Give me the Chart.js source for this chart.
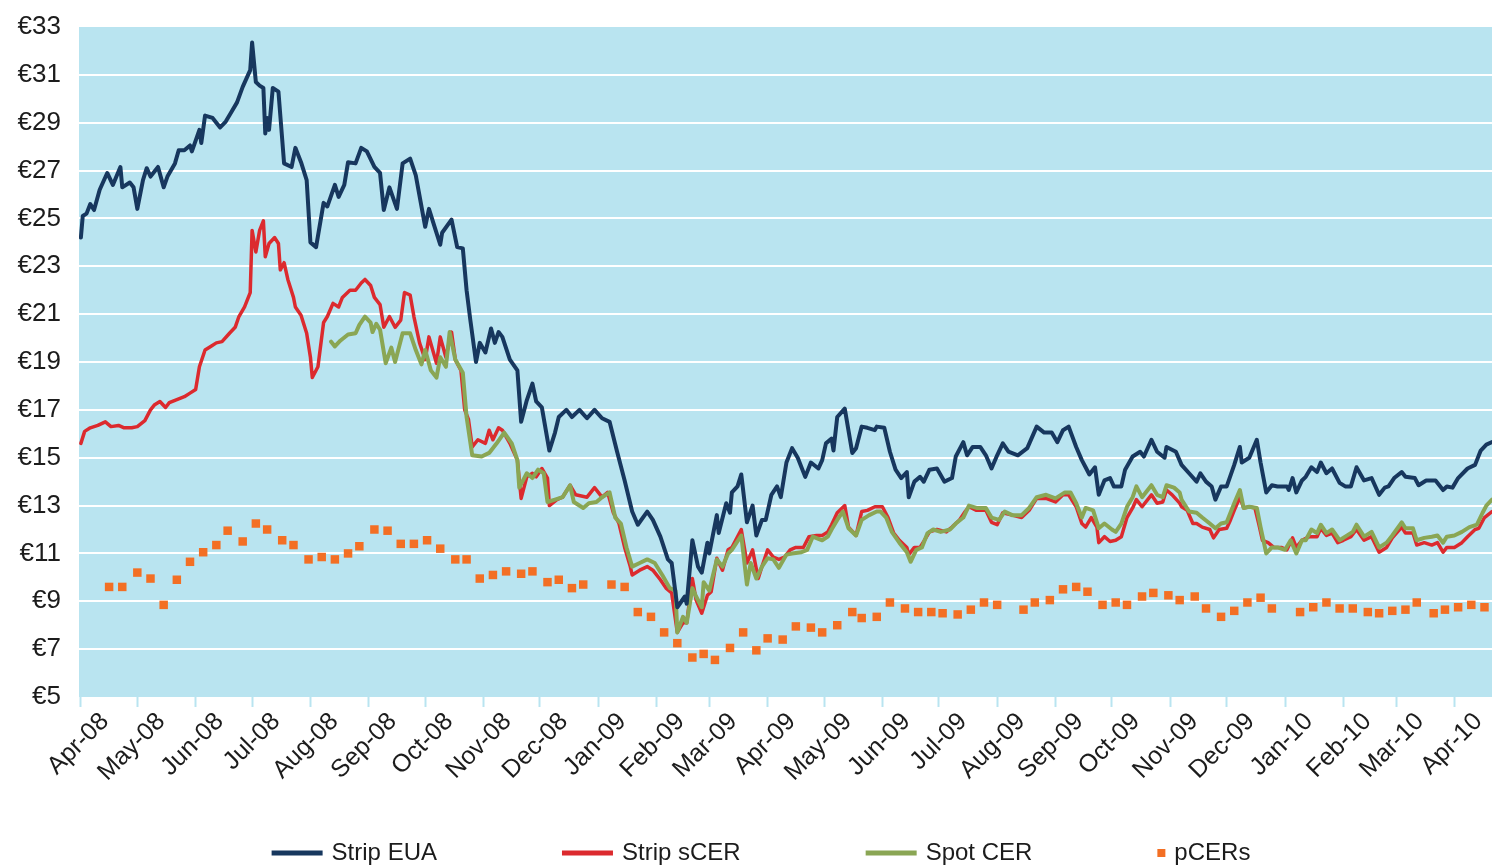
<!DOCTYPE html>
<html>
<head>
<meta charset="utf-8">
<title>EUA and CER prices</title>
<script src="https://cdn.jsdelivr.net/npm/chart.js@4.4.1/dist/chart.umd.min.js"></script>
<style>
  html, body { margin: 0; padding: 0; background: #ffffff; }
  #wrap { width: 1492px; height: 868px; }
</style>
</head>
<body>
<div id="wrap"><canvas id="prices"></canvas></div>
<script>
// x values are days counted from 1 April 2008
const monthLabels = [
  "Apr-08", "May-08", "Jun-08", "Jul-08", "Aug-08", "Sep-08", "Oct-08", "Nov-08", "Dec-08",
  "Jan-09", "Feb-09", "Mar-09", "Apr-09", "May-09", "Jun-09", "Jul-09", "Aug-09", "Sep-09",
  "Oct-09", "Nov-09", "Dec-09", "Jan-10", "Feb-10", "Mar-10", "Apr-10"
];
const monthStartDays = [
  0, 30, 61, 91, 122, 153, 183, 214, 244, 275, 306, 334, 365,
  395, 426, 456, 487, 518, 548, 579, 609, 640, 671, 699, 730
];

const euaDays = [
  0, 1, 3, 5, 7, 10, 14, 17, 21, 22,
  26, 28, 30, 33, 35, 37, 41, 44, 46, 50,
  52, 55, 58, 59, 63, 64, 66, 70, 74, 77,
  80, 83, 86, 90, 91, 93, 95, 97, 98, 99,
  100, 102, 105, 107, 108, 112, 114, 117, 120, 122,
  125, 129, 131, 135, 137, 140, 142, 146, 149, 152,
  156, 159, 161, 164, 168, 171, 175, 178, 183, 185,
  188, 191, 192, 197, 200, 203, 205, 207, 210, 212,
  215, 218, 220, 222, 224, 228, 232, 234, 237, 240,
  242, 245, 249, 252, 254, 258, 261, 265, 269, 273,
  277, 281, 285, 289, 293, 296, 301, 304, 308, 312,
  314, 317, 321, 322, 325, 328, 330, 333, 334, 338,
  339, 343, 345, 346, 349, 351, 354, 357, 359, 362,
  364, 367, 370, 372, 375, 378, 381, 385, 388, 392,
  394, 396, 399, 400, 402, 406, 410, 412, 415, 418,
  422, 423, 427, 430, 433, 436, 439, 440, 443, 446,
  448, 451, 455, 459, 463, 465, 469, 471, 474, 478,
  481, 484, 487, 490, 493, 498, 503, 508, 512, 516,
  519, 522, 525, 529, 532, 534, 536, 539, 541, 544,
  547, 549, 553, 555, 559, 563, 565, 569, 572, 576,
  577, 582, 585, 589, 593, 595, 598, 601, 603, 606,
  609, 613, 616, 617, 621, 625, 627, 630, 633, 636,
  641, 642, 644, 646, 649, 651, 654, 657, 659, 662,
  665, 669, 672, 675, 678, 682, 686, 690, 693, 695,
  698, 702, 704, 709, 711, 715, 720, 724, 726, 729,
  732, 737, 741, 744, 747, 750
];
const euaPrices = [
  24.2, 25.1, 25.2, 25.6, 25.35, 26.2, 26.9, 26.4, 27.15, 26.3,
  26.5, 26.3, 25.4, 26.6, 27.1, 26.75, 27.15, 26.3, 26.75, 27.3,
  27.85, 27.85, 28.05, 27.8, 28.7, 28.15, 29.3, 29.2, 28.8, 29.05,
  29.45, 29.85, 30.5, 31.2, 32.35, 30.7, 30.55, 30.45, 28.55, 29.2,
  28.7, 30.45, 30.3, 28.3, 27.3, 27.15, 27.95, 27.35, 26.6, 24.0,
  23.8, 25.65, 25.5, 26.4, 25.9, 26.4, 27.35, 27.3, 27.95, 27.8,
  27.15, 26.9, 25.35, 26.3, 25.4, 27.3, 27.5, 26.8, 24.65, 25.4,
  24.65, 23.9, 24.4, 24.95, 23.8, 23.75, 22.0, 20.75, 19.0, 19.8,
  19.4, 20.4, 19.8, 20.25, 20.05, 19.1, 18.65, 16.5, 17.4, 18.1,
  17.35, 17.1, 15.3, 16.05, 16.7, 17.0, 16.7, 17.0, 16.65, 17.0,
  16.65, 16.5, 15.25, 14.05, 12.75, 12.2, 12.75, 12.4, 11.7, 10.75,
  10.6, 8.75, 9.2, 8.9, 11.55, 10.45, 10.2, 11.45, 11.0, 12.6,
  11.85, 13.1, 12.7, 13.55, 13.8, 14.3, 12.3, 13.0, 11.75, 12.4,
  12.4, 13.45, 13.8, 13.35, 14.8, 15.4, 15.0, 14.2, 14.8, 14.55,
  14.9, 15.6, 15.8, 15.3, 16.7, 17.05, 15.2, 15.4, 16.3, 16.25,
  16.15, 16.3, 16.25, 15.25, 14.5, 14.15, 14.4, 13.35, 14.0, 14.2,
  14.0, 14.5, 14.55, 14.0, 14.15, 15.05, 15.65, 15.1, 15.45, 15.45,
  15.1, 14.55, 15.1, 15.6, 15.25, 15.1, 15.4, 16.3, 16.05, 16.05,
  15.65, 16.15, 16.3, 15.45, 14.9, 14.6, 14.3, 14.6, 13.45, 14.05,
  14.15, 13.8, 13.8, 14.5, 15.05, 15.25, 15.05, 15.75, 15.25, 15.0,
  15.45, 15.25, 14.7, 14.35, 14.0, 14.35, 14.0, 13.8, 13.25, 13.8,
  13.8, 14.7, 15.45, 14.8, 15.0, 15.75, 14.8, 13.55, 13.85, 13.8,
  13.8, 13.65, 14.15, 13.55, 14.05, 14.2, 14.6, 14.4, 14.8, 14.35,
  14.55, 13.95, 13.8, 13.8, 14.6, 14.05, 14.15, 13.45, 13.75, 13.8,
  14.15, 14.4, 14.2, 14.15, 13.85, 14.05, 14.05, 13.65, 13.8, 13.75,
  14.15, 14.55, 14.7, 15.3, 15.55, 15.65
];

const scerDays = [
  0, 2, 5, 9, 13, 16, 20, 23, 27, 30,
  34, 37, 39, 42, 45, 47, 50, 55, 58, 61,
  63, 66, 69, 72, 75, 79, 82, 84, 87, 90,
  91, 93, 95, 97, 98, 100, 103, 105, 106, 108,
  110, 113, 114, 117, 120, 122, 123, 126, 129, 131,
  134, 137, 139, 143, 146, 149, 151, 154, 156, 159,
  161, 164, 167, 170, 172, 175, 177, 180, 183, 185,
  189, 191, 194, 197, 199, 202, 204, 206, 208, 211,
  215, 217, 219, 222, 224, 228, 232, 234, 237, 240,
  242, 245, 248, 249, 253, 256, 260, 263, 269, 273,
  277, 280, 283, 286, 289, 292, 293, 297, 301, 304,
  308, 311, 314, 317, 320, 322, 325, 327, 330, 333,
  335, 338, 341, 344, 346, 351, 354, 357, 360, 362,
  365, 368, 371, 374, 377, 380, 384, 387, 391, 394,
  397, 399, 402, 406, 408, 412, 415, 418, 422, 426,
  429, 432, 435, 439, 440, 443, 446, 448, 451, 455,
  460, 463, 467, 470, 472, 476, 481, 484, 487, 490,
  495, 500, 504, 508, 513, 518, 522, 525, 529, 532,
  534, 537, 540, 541, 544, 547, 550, 553, 556, 559,
  561, 564, 569, 572, 575, 577, 580, 584, 585, 588,
  591, 593, 596, 600, 602, 605, 609, 611, 613, 616,
  618, 621, 624, 626, 628, 631, 634, 638, 641, 644,
  646, 649, 653, 657, 659, 662, 665, 668, 671, 675,
  678, 682, 686, 690, 694, 697, 702, 704, 708, 710,
  714, 718, 721, 724, 726, 730, 734, 737, 741, 743,
  746, 750
];
const scerPrices = [
  15.6, 16.1, 16.25, 16.35, 16.5, 16.3, 16.35, 16.25, 16.25, 16.3,
  16.55, 17.0, 17.2, 17.35, 17.1, 17.3, 17.4, 17.55, 17.7, 17.85,
  18.8, 19.5, 19.65, 19.8, 19.85, 20.2, 20.45, 20.9, 21.3, 21.9,
  24.5, 23.6, 24.5, 24.9, 23.4, 23.95, 24.2, 23.95, 22.85, 23.15,
  22.45, 21.7, 21.3, 20.95, 20.2, 19.2, 18.35, 18.8, 20.65, 20.9,
  21.45, 21.3, 21.7, 22.0, 22.0, 22.3, 22.45, 22.2, 21.7, 21.4,
  20.45, 20.9, 20.45, 20.75, 21.9, 21.8, 20.9, 19.8, 19.1, 20.05,
  18.95, 20.05, 19.2, 20.25, 19.1, 18.65, 17.0, 16.6, 15.45, 15.75,
  15.6, 16.15, 15.75, 16.25, 16.15, 15.6, 14.9, 13.3, 14.2, 14.35,
  14.2, 14.55, 14.15, 13.0, 13.25, 13.35, 13.85, 13.45, 13.35, 13.75,
  13.35, 13.55, 12.7, 12.25, 11.25, 10.45, 10.1, 10.3, 10.45, 10.3,
  9.9, 9.55, 9.35, 7.7, 8.1, 8.1, 9.95, 9.05, 8.5, 9.25,
  9.4, 10.8, 10.3, 11.15, 11.25, 12.0, 10.6, 11.15, 9.95, 10.45,
  11.15, 10.85, 10.75, 10.85, 11.15, 11.25, 11.25, 11.7, 11.75, 11.75,
  11.9, 12.2, 12.7, 13.0, 12.1, 11.75, 12.75, 12.8, 12.95, 12.95,
  12.5, 11.85, 11.55, 11.25, 10.95, 11.25, 11.25, 11.5, 11.9, 12.0,
  11.9, 12.1, 12.4, 12.75, 12.95, 12.8, 12.8, 12.3, 12.2, 12.7,
  12.6, 12.5, 12.8, 13.3, 13.3, 13.15, 13.45, 13.45, 12.95, 12.25,
  12.1, 12.5, 12.1, 11.45, 11.7, 11.5, 11.55, 11.7, 12.5, 12.9,
  13.25, 12.95, 13.45, 13.1, 13.15, 13.65, 13.45, 13.1, 12.95, 12.8,
  12.25, 12.25, 12.1, 12.0, 11.65, 12.0, 12.05, 12.4, 12.8, 13.35,
  12.9, 12.95, 12.9, 12.25, 11.55, 11.45, 11.25, 11.25, 11.15, 11.65,
  11.25, 11.55, 11.7, 11.7, 12.05, 11.75, 11.85, 11.45, 11.55, 11.7,
  12.0, 11.55, 11.7, 11.05, 11.25, 11.65, 12.1, 11.85, 11.85, 11.35,
  11.45, 11.35, 11.45, 11.05, 11.25, 11.25, 11.45, 11.7, 12.0, 12.05,
  12.5, 12.75
];

const cerDays = [
  133, 135, 138, 142, 146, 148, 151, 154, 155, 157,
  159, 162, 165, 167, 171, 175, 178, 181, 183, 186,
  189, 191, 194, 196, 199, 203, 205, 208, 213, 217,
  221, 225, 229, 232, 233, 237, 240, 243, 246, 248,
  252, 256, 260, 262, 267, 270, 274, 277, 281, 284,
  287, 290, 293, 297, 301, 305, 309, 313, 316, 317,
  320, 322, 325, 327, 330, 331, 334, 338, 341, 344,
  346, 351, 354, 356, 359, 362, 365, 368, 371, 375,
  378, 383, 386, 389, 394, 397, 399, 402, 405, 408,
  412, 415, 419, 423, 425, 428, 431, 435, 439, 441,
  444, 447, 450, 453, 457, 462, 465, 469, 472, 476,
  481, 484, 488, 491, 495, 500, 504, 508, 513, 518,
  523, 526, 529, 532, 534, 538, 541, 544, 548, 550,
  553, 556, 559, 561, 564, 569, 572, 575, 577, 581,
  584, 585, 589, 593, 596, 600, 603, 606, 609, 613,
  616, 618, 621, 625, 627, 630, 633, 636, 640, 643,
  646, 649, 651, 654, 657, 659, 662, 665, 669, 672,
  676, 678, 682, 686, 690, 694, 697, 702, 704, 708,
  710, 714, 718, 721, 724, 726, 730, 734, 738, 742,
  745, 747, 750
];
const cerPrices = [
  19.85, 19.65, 19.9, 20.15, 20.2, 20.55, 20.9, 20.65, 20.25, 20.6,
  20.35, 18.95, 19.6, 19.0, 20.2, 20.2, 19.5, 18.9, 19.5, 18.65,
  18.35, 19.2, 18.8, 20.25, 19.1, 18.55, 16.7, 15.1, 15.05, 15.2,
  15.6, 16.05, 15.6, 14.9, 13.75, 14.35, 14.15, 14.5, 14.35, 13.15,
  13.25, 13.35, 13.85, 13.15, 12.9, 13.1, 13.15, 13.35, 13.55, 12.5,
  12.25, 11.25, 10.45, 10.6, 10.75, 10.6, 10.1, 9.55, 9.45, 7.7,
  8.35, 8.1, 9.55, 9.2, 8.75, 9.8, 9.45, 10.75, 10.45, 11.0,
  11.15, 11.75, 9.7, 10.6, 9.95, 10.45, 10.8, 10.75, 10.4, 10.95,
  11.0, 11.05, 11.15, 11.7, 11.55, 11.7, 12.0, 12.4, 12.75, 12.05,
  11.75, 12.4, 12.6, 12.75, 12.75, 12.5, 11.9, 11.45, 11.05, 10.65,
  11.15, 11.25, 11.85, 12.0, 11.9, 12.0, 12.25, 12.5, 13.0, 12.9,
  12.9, 12.5, 12.4, 12.75, 12.6, 12.6, 12.9, 13.35, 13.45, 13.3,
  13.55, 13.55, 13.1, 12.5, 12.9, 12.8, 12.05, 12.25, 12.0, 11.9,
  12.25, 12.95, 13.35, 13.8, 13.35, 13.85, 13.45, 13.35, 13.85, 13.75,
  13.55, 13.25, 12.75, 12.7, 12.5, 12.25, 12.05, 12.25, 12.3, 13.1,
  13.65, 12.9, 12.95, 12.9, 12.1, 11.0, 11.25, 11.25, 11.15, 11.55,
  11.0, 11.55, 11.55, 12.0, 11.85, 12.2, 11.85, 12.0, 11.55, 11.7,
  11.9, 12.2, 11.7, 11.9, 11.25, 11.45, 11.75, 12.3, 12.05, 12.05,
  11.55, 11.65, 11.7, 11.75, 11.45, 11.7, 11.75, 11.9, 12.1, 12.2,
  12.7, 13.0, 13.25
];

const pcerDays = [
  15, 22, 30, 37, 44, 51, 58, 65, 72, 78,
  86, 93, 99, 107, 113, 121, 128, 135, 142, 148,
  156, 163, 170, 177, 184, 191, 199, 205, 212, 219,
  226, 234, 240, 248, 254, 261, 267, 282, 289, 296,
  303, 310, 317, 325, 331, 337, 345, 352, 359, 365,
  373, 380, 388, 394, 402, 410, 415, 423, 430, 438,
  445, 452, 458, 466, 473, 480, 487, 501, 507, 515,
  522, 529, 535, 543, 550, 556, 564, 570, 578, 584,
  592, 598, 606, 613, 620, 627, 633, 648, 655, 662,
  669, 676, 684, 690, 697, 704, 710, 719, 725, 732,
  739, 746
];
const pcerPrices = [
  9.6, 9.6, 10.2, 9.95, 8.85, 9.9, 10.65, 11.05, 11.35, 11.95,
  11.5, 12.25, 12.0, 11.55, 11.35, 10.75, 10.85, 10.75, 11.0, 11.3,
  12.0, 11.95, 11.4, 11.4, 11.55, 11.2, 10.75, 10.75, 9.95, 10.1,
  10.25, 10.15, 10.25, 9.8, 9.9, 9.55, 9.7, 9.7, 9.6, 8.55,
  8.35, 7.7, 7.25, 6.65, 6.8, 6.55, 7.05, 7.7, 6.95, 7.45,
  7.4, 7.95, 7.9, 7.7, 8.0, 8.55, 8.3, 8.35, 8.95, 8.7,
  8.55, 8.55, 8.5, 8.45, 8.65, 8.95, 8.85, 8.65, 8.95, 9.05,
  9.5, 9.6, 9.4, 8.85, 8.95, 8.85, 9.2, 9.35, 9.25, 9.05,
  9.2, 8.7, 8.35, 8.6, 8.95, 9.15, 8.7, 8.55, 8.75, 8.95,
  8.7, 8.7, 8.55, 8.5, 8.6, 8.65, 8.95, 8.5, 8.65, 8.75,
  8.85, 8.75
];

const NAVY = "#17375e";
const RED = "#dc2a2e";
const GREEN = "#8aa654";
const ORANGE = "#f36f24";
const PLOT_BG = "#b9e4f0";
const TEXT = "#1c1c1c";
const FONT_FAMILY = "'Liberation Sans', Arial, sans-serif";

function toPoints(days, prices) {
  return days.map((d, i) => ({ x: d, y: prices[i] }));
}

const plotBackground = {
  id: "plotBackground",
  beforeDraw(chart) {
    const { ctx, chartArea: a } = chart;
    ctx.save();
    ctx.fillStyle = PLOT_BG;
    ctx.fillRect(a.left, a.top, a.right - a.left, a.bottom - a.top);
    ctx.restore();
  }
};

// legend row under the axis labels
const bottomLegend = {
  id: "bottomLegend",
  afterDraw(chart) {
    const ctx = chart.ctx;
    const lineLen = 51;
    const gap = 9;
    const spacing = 125;
    ctx.save();
    ctx.font = "24px " + FONT_FAMILY;
    ctx.textBaseline = "middle";
    const items = chart.data.datasets.map(ds => {
      const swatch = ds.showLine === false ? 8 : lineLen;
      return { ds, swatch, width: swatch + gap + ctx.measureText(ds.label).width };
    });
    const total = items.reduce((s, it) => s + it.width, 0) + spacing * (items.length - 1);
    let x = (chart.width - total) / 2 + 15;
    const y = chart.height - 15;
    items.forEach(it => {
      if (it.ds.showLine === false) {
        ctx.fillStyle = it.ds.backgroundColor;
        ctx.fillRect(x, y - 4, 8, 8);
      } else {
        ctx.strokeStyle = it.ds.borderColor;
        ctx.lineWidth = 5;
        ctx.beginPath();
        ctx.moveTo(x, y);
        ctx.lineTo(x + lineLen, y);
        ctx.stroke();
      }
      ctx.fillStyle = TEXT;
      ctx.fillText(it.ds.label, x + it.swatch + gap, y);
      x += it.width + spacing;
    });
    ctx.restore();
  }
};

new Chart(document.getElementById("prices"), {
  type: "line",
  data: {
    datasets: [
      {
        label: "Strip EUA",
        data: toPoints(euaDays, euaPrices),
        borderColor: NAVY,
        borderWidth: 4,
        pointRadius: 0,
        tension: 0,
        order: 1
      },
      {
        label: "Strip sCER",
        data: toPoints(scerDays, scerPrices),
        borderColor: RED,
        borderWidth: 3.5,
        pointRadius: 0,
        tension: 0,
        order: 3
      },
      {
        label: "Spot CER",
        data: toPoints(cerDays, cerPrices),
        borderColor: GREEN,
        borderWidth: 4,
        pointRadius: 0,
        tension: 0,
        order: 2
      },
      {
        label: "pCERs",
        data: toPoints(pcerDays, pcerPrices),
        showLine: false,
        pointStyle: "rect",
        pointRadius: 6,
        pointBorderWidth: 0,
        backgroundColor: ORANGE,
        borderColor: ORANGE,
        order: 0
      }
    ]
  },
  options: {
    responsive: true,
    maintainAspectRatio: false,
    animation: false,
    layout: { autoPadding: false, padding: { top: 27, bottom: 71, left: 0, right: 0 } },
    plugins: {
      legend: { display: false },
      tooltip: { enabled: false }
    },
    elements: { line: { borderJoinStyle: "round", borderCapStyle: "round" } },
    scales: {
      x: {
        type: "linear",
        min: -1,
        max: 750,
        afterBuildTicks: scale => {
          scale.ticks = monthStartDays.map(v => ({ value: v }));
        },
        afterFit: scale => {
          scale.height = 100;
          scale.paddingLeft = 0;
          scale.paddingRight = 0;
        },
        border: { display: false },
        grid: {
          drawOnChartArea: false,
          drawTicks: true,
          tickLength: 10,
          tickColor: PLOT_BG,
          tickWidth: 2
        },
        ticks: {
          autoSkip: false,
          minRotation: 45,
          maxRotation: 45,
          labelOffset: 24,
          padding: 0,
          color: TEXT,
          font: { family: FONT_FAMILY, size: 25 },
          callback: (value, index) => monthLabels[index]
        }
      },
      y: {
        min: 5,
        max: 33,
        afterFit: scale => {
          scale.width = 79;
          scale.paddingTop = 0;
          scale.paddingBottom = 0;
        },
        border: { display: false },
        grid: {
          color: c => (c.tick.value === 5 || c.tick.value === 33) ? "rgba(0,0,0,0)" : "#ffffff",
          lineWidth: 2,
          drawTicks: false
        },
        ticks: {
          stepSize: 2,
          padding: 18,
          color: TEXT,
          font: { family: FONT_FAMILY, size: 26 },
          callback: value => "€" + value
        }
      }
    }
  },
  plugins: [plotBackground, bottomLegend]
});
</script>
</body>
</html>
